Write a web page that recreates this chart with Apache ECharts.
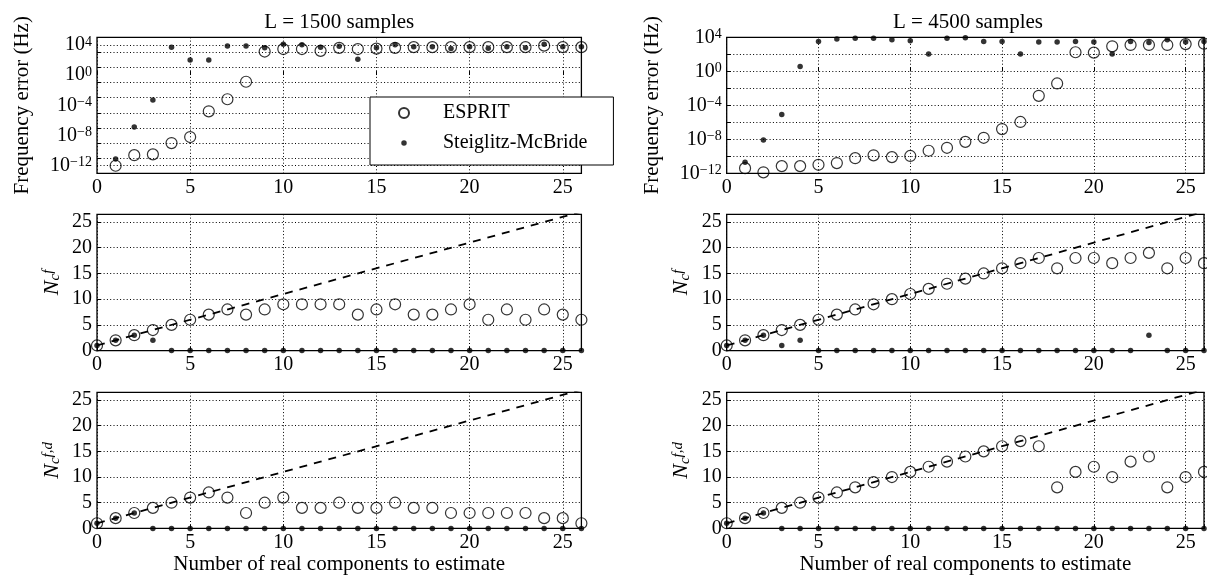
<!DOCTYPE html>
<html>
<head>
<meta charset="utf-8">
<script src="https://cdn.jsdelivr.net/npm/echarts@6/dist/echarts.min.js"></script>
<style>
html,body{margin:0;padding:0;background:#fff}
#chart{width:1207px;height:577px}
</style>
</head>
<body>
<div id="chart"></div>
<script>
// number of real components to estimate
let xTop = [1,2,3,4,5,6,7,8,9,10,11,12,13,14,15,16,17,18,19,20,21,22,23,24,25,26];
let xAll = [0,1,2,3,4,5,6,7,8,9,10,11,12,13,14,15,16,17,18,19,20,21,22,23,24,25,26];

// frequency error (Hz)
let errEsprit1500 = [1e-12,2.5e-11,3.2e-11,1e-9,6.3e-9,1.6e-5,6.3e-4,0.13,1300,2800,2800,1600,4000,2800,3200,4000,5000,5000,5000,5000,5000,5000,5000,7900,5000,5000];
let errSteig1500 = [8e-12,1.3e-7,5e-4,5000,100,100,7100,7100,4000,11700,10000,5000,6300,126,4000,10000,5600,5600,3200,5600,3500,5600,4000,11700,5600,5600];
let errEsprit4500 = [4e-12,1.3e-12,7e-12,7e-12,1e-11,1.6e-11,6e-11,1.3e-10,8e-11,1.1e-10,4.5e-10,1e-9,5e-9,1.5e-8,1.6e-7,1.1e-6,1.3e-3,0.037,174,158,870,1260,1260,1260,1580,1780];
let errSteig4500 = [2e-11,8e-9,8e-6,3.6,3200,6300,7900,7900,5000,4000,112,7900,8900,3200,3200,112,2800,2800,3200,2800,112,3200,2500,5000,2800,3200];

// N_c^f
let ncfEsprit1500 = [1,2,3,4,5,6,7,8,7,8,9,9,9,9,7,8,9,7,7,8,9,6,8,6,8,7,6];
let ncfSteig1500 = [1,2,3,2,0,0,0,0,0,0,0,0,0,0,0,0,0,0,0,0,0,0,0,0,0,0,0];
let ncfEsprit4500 = [1,2,3,4,5,6,7,8,9,10,11,12,13,14,15,16,17,18,16,18,18,17,18,19,16,18,17];
let ncfSteig4500 = [1,2,3,1,2,0,0,0,0,0,0,0,0,0,0,0,0,0,0,0,0,0,0,3,0,0,0];

// N_c^{f,d}
let ncfdEsprit1500 = [1,2,3,4,5,6,7,6,3,5,6,4,4,5,4,4,5,4,4,3,3,3,3,3,2,2,1];
let ncfdSteig1500 = [1,2,3,0,0,0,0,0,0,0,0,0,0,0,0,0,0,0,0,0,0,0,0,0,0,0,0];
let ncfdEsprit4500 = [1,2,3,4,5,6,7,8,9,10,11,12,13,14,15,16,17,16,8,11,12,10,13,14,8,10,11];
let ncfdSteig4500 = [1,2,3,0,0,0,0,0,0,0,0,0,0,0,0,0,0,0,0,0,0,0,0,0,0,0,0];

// dashed reference line (ideal count)
let idealX = [0,26];
let idealY = [1,27];

// extra horizontal grid lines of the L = 1500 error panel (exponents)
let extraGrid1500 = [4,-12];

let titles = ['L = 1500 samples','L = 4500 samples'];

const F = 'Liberation Serif';
const gx = [97, 726.7], gw = [484.4, 482.6];
const gy = [37.3, 214.3, 392.3], gh = [136, 136.3, 136.1];
const dotted = {color:'#000', width:1, type:[1,2.3]};

function logLabel(v){
    if (Math.round(v) % 4 !== 0) return '';
    let s = v < 0 ? '\u2212' + (-v) : String(v);
    return '{b|10}{e|' + s + '}';
}
const logRich = {
    b:{fontFamily:F, fontSize:20, color:'#000', lineHeight:20},
    e:{fontFamily:F, fontSize:14, color:'#000', lineHeight:14, verticalAlign:'top'}
};
const ncRich = {
    n:{fontFamily:F, fontSize:22, fontStyle:'italic', color:'#000', lineHeight:22},
    c:{fontFamily:F, fontSize:15, fontStyle:'italic', color:'#000', lineHeight:12, verticalAlign:'bottom'},
    f:{fontFamily:F, fontSize:15, fontStyle:'italic', color:'#000', lineHeight:12, verticalAlign:'top'}
};

let grids = [], xAxes = [], yAxes = [], series = [];

let panels = [
    {xs:xTop, a:errEsprit1500, b:errSteig1500, log:true, ymin:-13, ymax:5, step:2, extra:extraGrid1500},
    {xs:xTop, a:errEsprit4500, b:errSteig4500, log:true, ymin:-12, ymax:4, step:2, extra:[]},
    {xs:xAll, a:ncfEsprit1500, b:ncfSteig1500, name:'{n|N}{c|c}{f|f}'},
    {xs:xAll, a:ncfEsprit4500, b:ncfSteig4500, name:'{n|N}{c|c}{f|f}'},
    {xs:xAll, a:ncfdEsprit1500, b:ncfdSteig1500, name:'{n|N}{c|c}{f|f,d}'},
    {xs:xAll, a:ncfdEsprit4500, b:ncfdSteig4500, name:'{n|N}{c|c}{f|f,d}'}
];

for (let i = 0; i < panels.length; i++) {
    let p = panels[i];
    let r = Math.floor(i / 2), c = i % 2;
    grids.push({left:gx[c], top:gy[r], width:gw[c], height:gh[r], show:true,
        borderColor:'#000', borderWidth:1.3, backgroundColor:'transparent'});
    xAxes.push({
        gridIndex:i, type:'value', min:0, max:26, interval:5,
        axisLine:{show:false},
        axisTick:{inside:true, length:4, lineStyle:{color:'#000'}},
        axisLabel:{color:'#000', fontFamily:F, fontSize:20, margin:4,
            formatter:function(v){ return v % 5 === 0 ? String(v) : ''; }},
        splitLine:{show:true, lineStyle:dotted},
        name: r === 2 ? 'Number of real components to estimate' : '',
        nameLocation:'middle', nameGap:26,
        nameTextStyle:{fontFamily:F, fontSize:21, color:'#000'}
    });
    let yi = yAxes.length;
    if (p.log) {
        // gridline axis
        yAxes.push({
            gridIndex:i, type:'value', position:'left', min:p.ymin, max:p.ymax, interval:p.step,
            axisLine:{show:false},
            axisTick:{inside:true, length:4, lineStyle:{color:'#000'}},
            axisLabel:{show:false},
            splitLine:{show:true, lineStyle:dotted},
            name:'Frequency error (Hz)', nameLocation:'middle', nameRotate:90, nameGap:64,
            nameTextStyle:{fontFamily:F, fontSize:21, color:'#000'}
        });
        // label axis
        yAxes.push({
            gridIndex:i, type:'value', position:'left', min:p.ymin, max:p.ymax, interval:1,
            axisLine:{show:false}, axisTick:{show:false}, splitLine:{show:false},
            axisLabel:{margin:5, formatter:logLabel, rich:logRich}
        });
        if (p.extra.length) {
            series.push({
                type:'line', xAxisIndex:i, yAxisIndex:yi, data:[], silent:true,
                markLine:{silent:true, symbol:'none', label:{show:false}, animation:false,
                    lineStyle:dotted, emphasis:{disabled:true},
                    data:p.extra.map(function(e){ return {yAxis:e}; })}
            });
        }
    } else {
        yAxes.push({
            gridIndex:i, type:'value', min:0, max:26.5, interval:5,
            axisLine:{show:false},
            axisTick:{inside:true, length:4, lineStyle:{color:'#000'}},
            axisLabel:{color:'#000', fontFamily:F, fontSize:20, margin:5,
                formatter:function(v){ return v % 5 === 0 ? String(v) : ''; }},
            splitLine:{show:true, lineStyle:dotted},
            name:p.name, nameLocation:'middle', nameRotate:90, nameGap:34,
            nameTextStyle:{rich:ncRich}
        });
        series.push({
            type:'line', xAxisIndex:i, yAxisIndex:yi, symbol:'none', silent:true, z:1,
            data:idealX.map(function(x, k){ return [x, idealY[k]]; }),
            lineStyle:{color:'#000', width:1.8, type:[8,7]}, clip:true
        });
    }
    let tf = p.log ? function(v){ return Math.log10(v); } : function(v){ return v; };
    series.push({
        name:'ESPRIT', type:'scatter', xAxisIndex:i, yAxisIndex:yi, symbol:'circle', symbolSize:11, z:2,
        itemStyle:{color:'rgba(0,0,0,0)', borderColor:'#000', borderWidth:1.2},
        data:p.xs.map(function(x, k){ return [x, tf(p.a[k])]; })
    });
    series.push({
        name:'Steiglitz-McBride', type:'scatter', xAxisIndex:i, yAxisIndex:yi, symbol:'circle', symbolSize:5.5, z:3,
        itemStyle:{color:'#000'},
        data:p.xs.map(function(x, k){ return [x, tf(p.b[k])]; })
    });
}

let chart = echarts.init(document.getElementById('chart'));
chart.setOption({
    animation:false,
    backgroundColor:'#fff',
    grid:grids, xAxis:xAxes, yAxis:yAxes, series:series,
    legend:{
        left:370, top:97, orient:'vertical', selectedMode:false,
        backgroundColor:'#fff', borderColor:'#000', borderWidth:1,
        padding:[6,26,12,28], itemGap:10, itemWidth:10, itemHeight:10,
        textStyle:{fontFamily:F, fontSize:20, color:'#000', padding:[0,0,0,29]},
        data:[
            {name:'ESPRIT'},
            {name:'Steiglitz-McBride',
             icon:'path://M0,0L0.01,0M20,20L20.01,20M15.5,10A5.5,5.5,0,1,1,4.5,10A5.5,5.5,0,1,1,15.5,10Z'}
        ],
        z:10
    },
    graphic:titles.map(function(t, k){
        return {type:'text', x:gx[k] + gw[k] / 2, y:22,
            style:{text:t, fill:'#000', font:'21px "Liberation Serif"', align:'center', verticalAlign:'middle'}};
    })
});
</script>
</body>
</html>
